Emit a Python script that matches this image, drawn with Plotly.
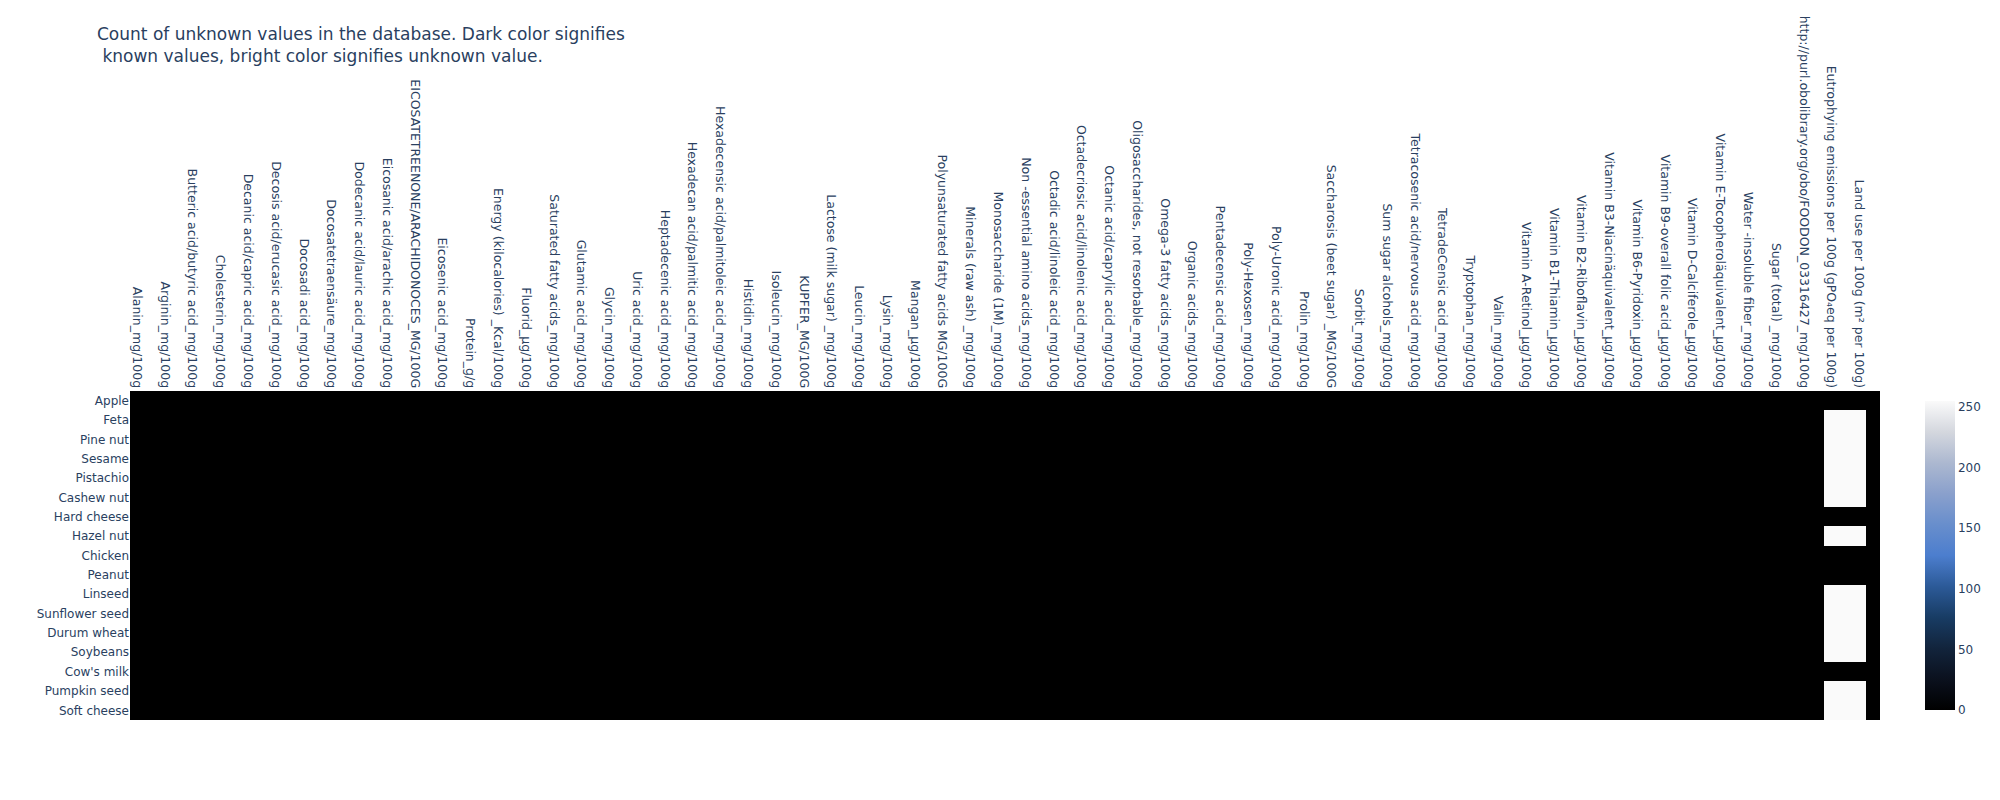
import plotly.graph_objects as go

foods = ["Apple", "Feta", "Pine nut", "Sesame", "Pistachio", "Cashew nut", "Hard cheese",
         "Hazel nut", "Chicken", "Peanut", "Linseed", "Sunflower seed", "Durum wheat",
         "Soybeans", "Cow's milk", "Pumpkin seed", "Soft cheese"]

# Every second column carries a visible tick label (the others are unlabeled in the reference)
tick_labels = [
    "Alanin_mg/100g", "Arginin_mg/100g", "Butteric acid/butyric acid_mg/100g", "Cholesterin_mg/100g",
    "Decanic acid/capric acid_mg/100g", "Decosis acid/erucasic acid_mg/100g", "Docosadi acid_mg/100g",
    "Docosatetraensäure_mg/100g", "Dodecanic acid/lauric acid_mg/100g", "Eicosanic acid/arachic acid_mg/100g",
    "EICOSATETREENONE/ARACHIDONOCES_MG/100G", "Eicosenic acid_mg/100g", "Protein_g/g",
    "Energy (kilocalories) _Kcal/100g", "Fluorid_µg/100g", "Saturated fatty acids_mg/100g",
    "Glutamic acid_mg/100g", "Glycin_mg/100g", "Uric acid_mg/100g", "Heptadecenic acid_mg/100g",
    "Hexadecan acid/palmitic acid_mg/100g", "Hexadecensic acid/palmitoleic acid_mg/100g",
    "Histidin_mg/100g", "Isoleucin_mg/100g", "KUPFER_MG/100G", "Lactose (milk sugar) _mg/100g",
    "Leucin_mg/100g", "Lysin_mg/100g", "Mangan_µg/100g", "Polyunsaturated fatty acids MG/100G",
    "Minerals (raw ash) _mg/100g", "Monosaccharide (1M)_mg/100g", "Non -essential amino acids_mg/100g",
    "Octadic acid/linoleic acid_mg/100g", "Octadecriosic acid/linolenic acid_mg/100g",
    "Octanic acid/caprylic acid_mg/100g", "Oligosaccharides, not resorbable_mg/100g",
    "Omega-3 fatty acids_mg/100g", "Organic acids_mg/100g", "Pentadecensic acid_mg/100g",
    "Poly-Hexosen_mg/100g", "Poly-Uronic acid_mg/100g", "Prolin_mg/100g",
    "Saccharosis (beet sugar) _MG/100G", "Sorbit_mg/100g", "Sum sugar alcohols_mg/100g",
    "Tetracosenic acid/nervous acid_mg/100g", "TetradeCensic acid_mg/100g", "Tryptophan_mg/100g",
    "Valin_mg/100g", "Vitamin A-Retinol_µg/100g", "Vitamin B1-Thiamin_µg/100g",
    "Vitamin B2-Riboflavin_µg/100g", "Vitamin B3-Niacinäquivalent_µg/100g",
    "Vitamin B6-Pyridoxin_µg/100g", "Vitamin B9-overall folic acid_µg/100g",
    "Vitamin D-Calciferole_µg/100g", "Vitamin E-Tocopheroläquivalent_µg/100g",
    "Water -insoluble fiber_mg/100g", "Sugar (total) _mg/100g",
    "http://purl.obolibrary.org/obo/FOODON_03316427_mg/100g",
    "Eutrophying emissions per 100g (gPO₄eq per 100g)", "Land use per 100g (m² per 100g)",
]
tick_positions = list(range(0, 126, 2))

n_columns = 126
# Columns with unknown values (all others are fully known -> 0)
unknown_columns = [122, 123, 124]
unknown_pattern = [0, 255, 255, 255, 255, 255, 0, 255, 0, 0, 255, 255, 255, 255, 0, 255, 255]

z = []
for r in range(len(foods)):
    row = [0] * n_columns
    for c in unknown_columns:
        row[c] = unknown_pattern[r]
    z.append(row)

colorscale = [
    [0.0, "rgb(0,0,0)"],
    [0.1, "rgb(11,17,30)"],
    [0.2, "rgb(18,36,60)"],
    [0.3, "rgb(24,60,100)"],
    [0.4, "rgb(44,90,152)"],
    [0.5, "rgb(76,126,206)"],
    [0.6, "rgb(104,142,204)"],
    [0.7, "rgb(138,160,204)"],
    [0.8, "rgb(172,184,208)"],
    [0.9, "rgb(212,215,222)"],
    [1.0, "rgb(250,250,250)"],
]

fig = go.Figure(go.Heatmap(
    z=z, x=list(range(n_columns)), y=foods,
    colorscale=colorscale, zmin=0, zmax=255,
    colorbar=dict(thickness=30, tickvals=[0, 50, 100, 150, 200, 250]),
))

fig.update_layout(
    template="plotly",
    width=2000, height=800,
    font=dict(family="DejaVu Sans, Verdana, sans-serif"),
    title=dict(text="Count of unknown values in the database. Dark color signifies<br> known values, bright color signifies unknown value.",
               x=0.0445, y=0.96),
    margin=dict(l=122, r=128, t=383, b=88),
    plot_bgcolor="white",
    xaxis=dict(side="top", tickmode="array", tickvals=tick_positions, ticktext=tick_labels,
               tickangle=90, tickfont=dict(size=12.5), range=[-0.5, n_columns - 0.5],
               showgrid=False, zeroline=False, automargin=False),
    yaxis=dict(autorange="reversed", showgrid=False, automargin=False),
)

fig.write_html("out.html")
